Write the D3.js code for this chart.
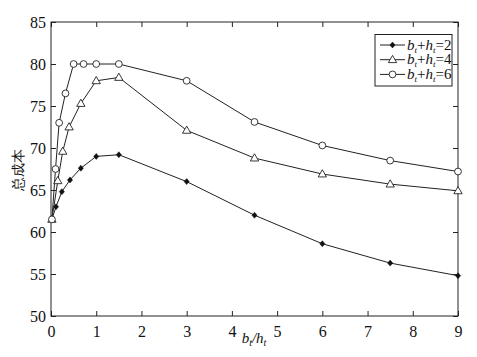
<!DOCTYPE html>
<html><head><meta charset="utf-8">
<script src="https://cdn.jsdelivr.net/npm/d3@7"></script>
<style>
body{margin:0;background:#fff;}
svg text{font-family:'Liberation Serif',serif;fill:#111;}
</style></head>
<body><svg id="c" width="477" height="357"></svg>
<script>
const xTicks=[0,1,2,3,4,5,6,7,8,9];
const yTicks=[50,55,60,65,70,75,80,85];
const seriesNames=["2","4","6"];
const xA=[0.02,0.11,0.24,0.42,0.66,1,1.5,3,4.5,6,7.5,9];
const yA=[61.5,63.0,64.8,66.2,67.6,69.0,69.2,66.0,62.0,58.6,56.3,54.8];
const xB=[0.02,0.15,0.26,0.40,0.66,1,1.5,3,4.5,6,7.5,9];
const yB=[61.5,66.1,69.6,72.5,75.3,78.0,78.4,72.1,68.8,66.9,65.7,64.9];
const xC=[0.02,0.10,0.18,0.32,0.5,0.72,1,1.5,3,4.5,6,7.5,9];
const yC=[61.5,67.5,73.0,76.5,80,80,80,80,78.0,73.1,70.3,68.5,67.2];
const markers=["diamond","triangle","circle"];

const FONT="'Liberation Serif',serif";
const svg=d3.select("#c");
const L=51,R=458,T=22,B=316;
const x=d3.scaleLinear().domain([0,9]).range([L,R]);
const y=d3.scaleLinear().domain([50,85]).range([B,T]);
const ink="#222";

svg.append("rect").attr("x",L).attr("y",T).attr("width",R-L).attr("height",B-T)
  .attr("fill","none").attr("stroke",ink).attr("stroke-width",1);

const tl=5;
const ax=d3.axisBottom(x).tickValues(xTicks).tickSize(-tl).tickPadding(7).tickFormat(d3.format("d"));
const gx=svg.append("g").attr("transform",`translate(0,${B})`).call(ax);
const ay=d3.axisLeft(y).tickValues(yTicks).tickSize(-tl).tickPadding(5).tickFormat(d3.format("d"));
const gy=svg.append("g").attr("transform",`translate(${L},0)`).call(ay);
const gt=svg.append("g").attr("transform",`translate(0,${T})`).call(d3.axisTop(x).tickValues(xTicks).tickSize(-tl).tickFormat(""));
const gr=svg.append("g").attr("transform",`translate(${R},0)`).call(d3.axisRight(y).tickValues(yTicks).tickSize(-tl).tickFormat(""));
[gx,gy,gt,gr].forEach(g=>{g.attr("font-family",FONT).attr("font-size",16);
  g.select(".domain").remove();g.selectAll("line").attr("stroke",ink);
  g.selectAll("text").attr("fill","#111");});
gx.selectAll("text").attr("dy","0.85em");

const line=d3.line().x(d=>x(d[0])).y(d=>y(d[1]));
const data=[d3.zip(xA,yA),d3.zip(xB,yB),d3.zip(xC,yC)];

function drawMarker(g,type,cx,cy){
  if(type==="diamond"){
    g.append("path").attr("d","M0,-3L2.6,0L0,3L-2.6,0Z").attr("transform",`translate(${cx},${cy})`)
     .attr("fill","#111").attr("stroke","#111").attr("stroke-width",0.5);
  }else if(type==="triangle"){
    g.append("path").attr("d",d3.symbol(d3.symbolTriangle,30)()).attr("transform",`translate(${cx},${cy+0.5})`)
     .attr("fill","#fff").attr("stroke",ink).attr("stroke-width",0.9);
  }else{
    g.append("circle").attr("cx",cx).attr("cy",cy).attr("r",3.4).attr("fill","#fff").attr("stroke",ink).attr("stroke-width",0.9);
  }
}

data.forEach((d,i)=>{
  svg.append("path").datum(d).attr("d",line).attr("fill","none").attr("stroke",ink).attr("stroke-width",1);
});
data.forEach((d,i)=>{
  const g=svg.append("g");
  d.forEach(p=>drawMarker(g,markers[i],x(p[0]),y(p[1])));
});

// legend
const lg=svg.append("g");
lg.append("rect").attr("x",375).attr("y",34.5).attr("width",77).attr("height",51.5)
  .attr("fill","#fff").attr("stroke",ink).attr("stroke-width",1);
seriesNames.forEach((n,i)=>{
  const yy=45+i*14.7;
  lg.append("line").attr("x1",380).attr("x2",405).attr("y1",yy).attr("y2",yy).attr("stroke",ink);
  drawMarker(lg,markers[i],392.5,yy);
  const t=lg.append("text").attr("x",407).attr("y",yy+4.5).attr("font-family",FONT).attr("font-size",15);
  t.append("tspan").text("b").attr("font-style","italic");
  t.append("tspan").text("t").attr("font-style","italic").attr("font-size",9).attr("dy",3);
  t.append("tspan").text("+").attr("dy",-3);
  t.append("tspan").text("h").attr("font-style","italic");
  t.append("tspan").text("t").attr("font-style","italic").attr("font-size",9).attr("dy",3);
  t.append("tspan").text("="+n).attr("dy",-3);
});

// axis labels
const xl=svg.append("text").attr("x",254).attr("y",343).attr("text-anchor","middle").attr("font-family",FONT).attr("font-size",15);
xl.append("tspan").text("b").attr("font-style","italic");
xl.append("tspan").text("t").attr("font-style","italic").attr("font-size",10).attr("dy",3);
xl.append("tspan").text("/").attr("font-style","italic").attr("dy",-3);
xl.append("tspan").text("h").attr("font-style","italic");
xl.append("tspan").text("t").attr("font-style","italic").attr("font-size",10).attr("dy",3);

svg.append("text").attr("transform","translate(23,170) rotate(-90)").attr("text-anchor","middle")
  .attr("font-family","'Noto Sans CJK SC'").attr("font-size",14).text("总成本");
</script></body></html>
